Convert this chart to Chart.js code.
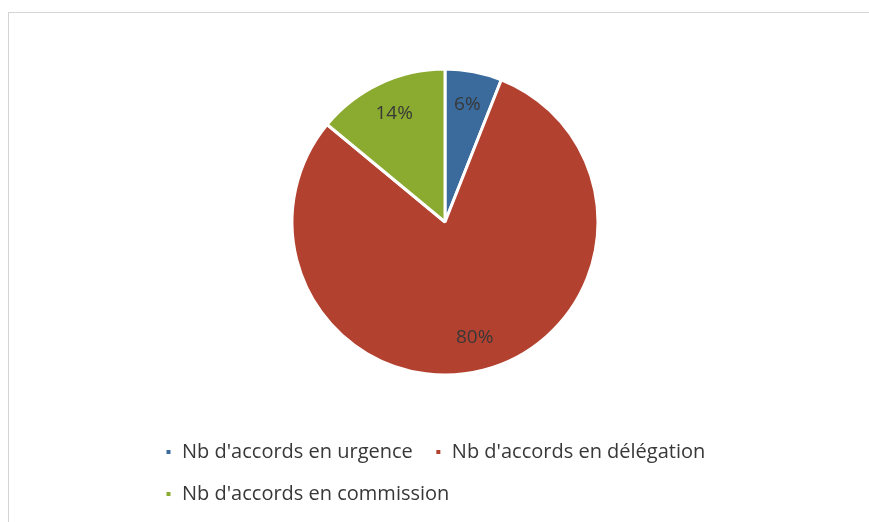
<!DOCTYPE html>
<html>
<head>
<meta charset="utf-8">
<script src="https://cdn.jsdelivr.net/npm/chart.js@4.4.0/dist/chart.umd.min.js"></script>
<style>
  body { margin: 0; background: #fff; }
  #cadre { position: absolute; left: 8px; top: 12px; width: 870px; height: 520px;
           border-left: 1px solid #d4d4d4; border-top: 1px solid #d4d4d4; }
  #zone { position: absolute; left: 0; top: 0; width: 869px; height: 522px; }
</style>
</head>
<body>
<div id="cadre"></div>
<div id="zone"><canvas id="graphiqueAccords" width="869" height="522"></canvas></div>
<script>
// donnees du graphique
const categories = ["Nb d'accords en urgence", "Nb d'accords en délégation", "Nb d'accords en commission"];
const valeurs = [6, 80, 14];
const couleurs = ['#3a6b9c', '#b3412f', '#8bab30'];

// etiquettes en % dans les parts
const etiquettesPourcent = {
  id: 'etiquettesPourcent',
  afterDatasetsDraw(chart) {
    const ctx = chart.ctx;
    const meta = chart.getDatasetMeta(0);
    const total = valeurs.reduce((a, b) => a + b, 0);
    ctx.save();
    ctx.font = '19px "Open Sans"';
    ctx.fillStyle = '#383838';
    ctx.textAlign = 'center';
    ctx.textBaseline = 'middle';
    meta.data.forEach((arc, i) => {
      const p = arc.getProps(['x', 'y', 'startAngle', 'endAngle', 'outerRadius'], true);
      const milieu = (p.startAngle + p.endAngle) / 2;
      const r = p.outerRadius * 0.78;
      const pct = Math.round(valeurs[i] / total * 100) + '%';
      ctx.fillText(pct, p.x + Math.cos(milieu) * r, p.y + Math.sin(milieu) * r);
    });
    ctx.restore();
  }
};

const ctxAccords = document.getElementById('graphiqueAccords').getContext('2d');
const graphique = new Chart(ctxAccords, {
  type: 'pie',
  data: {
    labels: categories,
    datasets: [{
      data: valeurs,
      backgroundColor: couleurs,
      borderColor: '#ffffff',
      borderWidth: 3,
      radius: 153
    }]
  },
  options: {
    responsive: false,
    animation: false,
    layout: { padding: { left: 143, right: 122, top: 24, bottom: 8 } },
    plugins: {
      tooltip: { enabled: false },
      legend: {
        position: 'bottom',
        align: 'start',
        labels: {
          boxWidth: 7,
          boxHeight: 7,
          padding: 22,
          color: '#383838',
          font: { family: '"Open Sans"', size: 20 }
        }
      }
    }
  },
  plugins: [etiquettesPourcent]
});
</script>
</body>
</html>
